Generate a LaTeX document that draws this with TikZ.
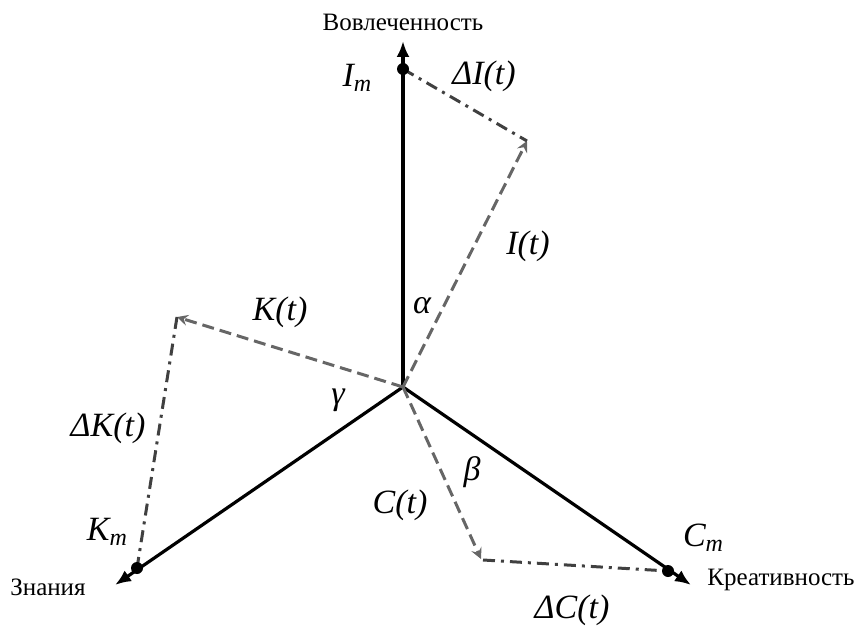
\documentclass[tikz,border=0pt]{standalone}
\usepackage{fontspec}
\setmainfont{Liberation Serif}
\usetikzlibrary{arrows.meta}
\tikzset{
  axis/.style={line width=3.2pt, black, -{Latex[length=16pt,width=13pt]}},
  vec/.style={line width=3pt, gray!80!black, dash pattern=on 12pt off 6pt, -{Stealth[length=11pt,width=11pt,inset=4pt]}},
  dvec/.style={line width=3pt, black!75, dash pattern=on 12pt off 6pt on 3pt off 6pt},
  dot/.style={circle, fill=black, inner sep=0pt, minimum size=12pt},
  lab/.style={font=\fontsize{34}{38}\selectfont\itshape, inner sep=0pt},
  axlab/.style={font=\fontsize{25}{28}\selectfont, inner sep=0pt},
  pt/.style={inner sep=0pt, minimum size=0pt}
}
\newcommand{\sbm}{\raisebox{-0.35ex}{\fontsize{24}{26}\selectfont m}}
\begin{document}
\begin{tikzpicture}[x=1pt,y=-1pt]
\useasboundingbox (0,0) rectangle (865,626);
\coordinate (O) at (403,387);
\coordinate (Itip) at (403,41);
\coordinate (Ktip) at (115,585);
\coordinate (Ctip) at (691,585);
\coordinate (It) at (527,141);
\coordinate (Kt) at (177,317);
\coordinate (Ct) at (481,559);
\coordinate (Ce) at (483,560);
\node[pt] (Im) at (403,69) {};
\node[pt] (Km) at (137,568) {};
\node[pt] (Cm) at (668,571) {};
% axes
\draw[axis] (O) -- (Itip);
\draw[axis] (O) -- (Ktip);
\draw[axis] (O) -- (Ctip);
% vectors
\draw[vec] (O) -- (It);
\draw[vec] (O) -- (Kt);
\draw[vec] (O) -- (Ct);
% deltas
\draw[dvec] (Im) -- (It);
\draw[dvec] (Kt) -- (Km);
\draw[dvec] (Ce) -- (Cm);
% dots
\node[dot] at (Im) {};
\node[dot] at (Km) {};
\node[dot] at (Cm) {};
% labels
\node[axlab] (lv) at (403,22) {Вовлеченность};
\node[axlab] (lz) at (48,587) {Знания};
\node[axlab] (lk) at (781,580) {Креативность};
\node[lab] (lIm) at (357,78) {I\sbm};
\node[lab] (ldI) at (484,76) {ΔI(t)};
\node[lab] (lIt) at (528,246) {I(t)};
\node[lab] (la) at (422,306) {α};
\node[lab] (lKt) at (280,312) {K(t)};
\node[lab] (lg) at (338,400) {γ};
\node[lab] (ldK) at (108,428) {ΔK(t)};
\node[lab] (lKm) at (107,532) {K\sbm};
\node[lab] (lCt) at (400,505) {C(t)};
\node[lab] (lb) at (472,472) {β};
\node[lab] (lCm) at (703,538) {C\sbm};
\node[lab] (ldC) at (572,610) {ΔC(t)};
\end{tikzpicture}
\end{document}
